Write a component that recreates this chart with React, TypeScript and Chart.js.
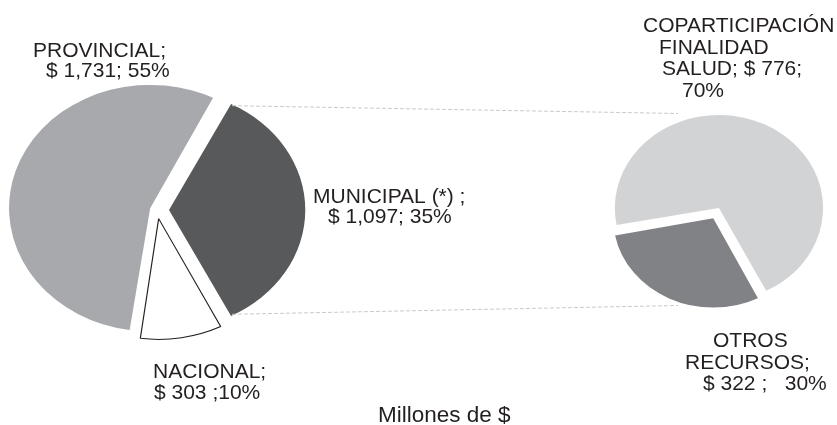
import React, { useEffect, useRef } from "react";
import { Chart, registerables } from "chart.js";

Chart.register(...registerables);

const W = 837;
const H = 425;

// Main pie: funding sources, millions of $
const mainCategories = ["PROVINCIAL", "MUNICIPAL (*)", "NACIONAL"];
const mainValues = [1731, 1097, 303];
const mainPercents = [55, 35, 10];

// Secondary pie: breakdown of the municipal share
const subCategories = ["COPARTICIPACIÓN FINALIDAD SALUD", "OTROS RECURSOS"];
const subValues = [776, 322];
const subPercents = [70, 30];

// Label lines; {v} = amount, {p} = percentage
const mainLabelLines = [
  ["PROVINCIAL;", "$ {v}; {p}%"],
  ["MUNICIPAL (*) ;", "$ {v}; {p}%"],
  ["NACIONAL;", "$ {v} ;{p}%"],
];
const subLabelLines = [
  ["COPARTICIPACIÓN", "FINALIDAD", "SALUD; $ {v};", "{p}%"],
  ["OTROS", "RECURSOS;", "$ {v} ;   {p}%"],
];
const unitsTitle = "Millones de $";

// ---- styling / layout ----
const mainColors = ["#a7a9ac", "#58595b", "#ffffff"];
const mainBorderColors = ["#ffffff", "#ffffff", "#231f20"];
const mainBorderWidths = [0, 0, 1];
const subColors = ["#d1d3d4", "#808285"];
const TEXT_COLOR = "#231f20";
const FONT = '21px "Liberation Sans", Arial, sans-serif';
const UNITS_FONT = '22.5px "Liberation Sans", Arial, sans-serif';

const MAIN = { cx: 157, cy: 210, r: 117, sx: 1.145, explode: [12.5, 12.5, 12.5] };
const SUB = { cx: 717, cy: 211.5, r: 89, sx: 1.12, explode: [7.9, 7.9], rotation: 259 };

const mainLabelPos = [
  [[33, 57], [46, 77]],
  [[313, 202.5], [328, 223]],
  [[153, 377.5], [154, 398.5]],
];
const subLabelPos = [
  [[643, 32], [659, 53.5], [662, 75], [682, 97]],
  [[713, 347], [685, 368.5], [703, 390]],
];
const unitsPos = [378, 422];
const connectorEnds = [[678, 113.5], [678, 305.5]];

const fmt = (v: number) => v.toLocaleString("en-US");
const fill = (t: string, v: number, p: number) => t.replace("{v}", fmt(v)).replace("{p}", String(p));

// Chart.js moves an arc by offset/4 * (1 + fix); invert that to get a fixed explode distance
function explodeOffsets(values: number[], dist: number[]) {
  const total = values.reduce((a, b) => a + b, 0);
  return values.map((v, i) => {
    const circ = (v / total) * Math.PI * 2;
    const fix = 1 - Math.sin(Math.min(Math.PI, circ));
    return (dist[i] * 4) / (1 + fix);
  });
}

function arcShift(arc: any) {
  const off = (arc.options.offset || 0) / 4;
  const circ = arc.endAngle - arc.startAngle;
  const fix = 1 - Math.sin(Math.min(Math.PI, circ));
  const mid = (arc.startAngle + arc.endAngle) / 2;
  const t = off * (1 + fix);
  return [Math.cos(mid) * t, Math.sin(mid) * t];
}

// Draw the pie as an ellipse by stretching horizontally around its centre
const ellipsePlugin = (sx: number) => ({
  id: "ellipse",
  beforeDatasetsDraw(chart: any) {
    const arc = chart.getDatasetMeta(0).data[0];
    const ctx = chart.ctx;
    ctx.save();
    ctx.translate(arc.x, arc.y);
    ctx.scale(sx, 1);
    ctx.translate(-arc.x, -arc.y);
  },
  afterDatasetsDraw(chart: any) {
    chart.ctx.restore();
  },
});

function drawLines(ctx: CanvasRenderingContext2D, lines: string[], pos: number[][], font = FONT) {
  ctx.save();
  ctx.font = font;
  ctx.fillStyle = TEXT_COLOR;
  ctx.textAlign = "left";
  ctx.textBaseline = "alphabetic";
  lines.forEach((s, i) => ctx.fillText(s, pos[i][0], pos[i][1]));
  ctx.restore();
}

const mainLabelsPlugin = {
  id: "mainLabels",
  afterDraw(chart: any) {
    const ctx = chart.ctx as CanvasRenderingContext2D;
    // connector lines from the municipal slice to the secondary pie
    const muni = chart.getDatasetMeta(0).data[1];
    const [tx, ty] = arcShift(muni);
    const corner = (a: number) => [
      muni.x + MAIN.sx * (tx + muni.outerRadius * Math.cos(a)),
      muni.y + ty + muni.outerRadius * Math.sin(a),
    ];
    const starts = [corner(muni.startAngle), corner(muni.endAngle)];
    ctx.save();
    ctx.strokeStyle = "#c9cacc";
    ctx.lineWidth = 1;
    ctx.setLineDash([4, 2]);
    starts.forEach((s, i) => {
      ctx.beginPath();
      ctx.moveTo(s[0], s[1]);
      ctx.lineTo(connectorEnds[i][0], connectorEnds[i][1]);
      ctx.stroke();
    });
    ctx.restore();

    mainLabelLines.forEach((tpl, i) => {
      drawLines(ctx, tpl.map((t) => fill(t, mainValues[i], mainPercents[i])), mainLabelPos[i]);
    });
    drawLines(ctx, [unitsTitle], [unitsPos], UNITS_FONT);
  },
};

const subLabelsPlugin = {
  id: "subLabels",
  afterDraw(chart: any) {
    const ctx = chart.ctx as CanvasRenderingContext2D;
    subLabelLines.forEach((tpl, i) => {
      drawLines(ctx, tpl.map((t) => fill(t, subValues[i], subPercents[i])), subLabelPos[i]);
    });
  },
};

export default function App() {
  const mainRef = useRef<HTMLCanvasElement>(null);
  const subRef = useRef<HTMLCanvasElement>(null);

  useEffect(() => {
    const total = mainValues.reduce((a, b) => a + b, 0);
    const provDeg = (mainValues[0] / total) * 360;
    const muniDeg = (mainValues[1] / total) * 360;
    // municipal slice centred on the right (3 o'clock)
    const mainRotation = -muniDeg / 2 - provDeg + 90;

    const common = {
      responsive: false,
      animation: false as const,
      devicePixelRatio: 1,
      events: [] as any[],
      plugins: { legend: { display: false }, tooltip: { enabled: false } },
    };

    const mainChart = new Chart(mainRef.current!, {
      type: "pie",
      data: {
        labels: mainCategories,
        datasets: [
          {
            data: mainValues,
            backgroundColor: mainColors,
            borderColor: mainBorderColors,
            borderWidth: mainBorderWidths,
            offset: explodeOffsets(mainValues, MAIN.explode),
            clip: false,
          } as any,
        ],
      },
      options: {
        ...common,
        rotation: mainRotation,
        radius: MAIN.r,
        layout: { padding: { left: 0, top: 0, right: W - 2 * MAIN.cx, bottom: H - 2 * MAIN.cy } },
      } as any,
      plugins: [ellipsePlugin(MAIN.sx), mainLabelsPlugin],
    });

    const subLeft = W - 2 * (W - SUB.cx);
    const subChart = new Chart(subRef.current!, {
      type: "pie",
      data: {
        labels: subCategories,
        datasets: [
          {
            data: subValues,
            backgroundColor: subColors,
            borderWidth: 0,
            offset: explodeOffsets(subValues, SUB.explode),
            clip: false,
          } as any,
        ],
      },
      options: {
        ...common,
        rotation: SUB.rotation,
        radius: SUB.r,
        layout: { padding: { left: subLeft, top: 0, right: 0, bottom: H - 2 * SUB.cy } },
      } as any,
      plugins: [ellipsePlugin(SUB.sx), subLabelsPlugin],
    });

    return () => {
      mainChart.destroy();
      subChart.destroy();
    };
  }, []);

  const canvasStyle: React.CSSProperties = { position: "absolute", left: 0, top: 0, display: "block" };
  return (
    <div style={{ position: "fixed", left: 0, top: 0, width: W, height: H, background: "#ffffff" }}>
      <canvas ref={mainRef} width={W} height={H} style={canvasStyle} />
      <canvas ref={subRef} width={W} height={H} style={canvasStyle} />
    </div>
  );
}
